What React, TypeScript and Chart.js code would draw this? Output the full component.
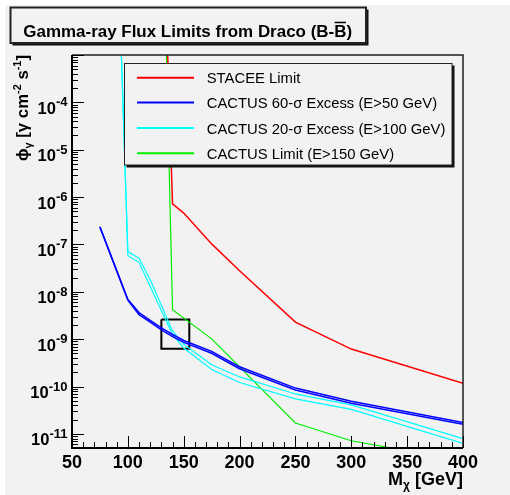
import React, { useEffect, useRef } from "react";
import { Chart, registerables } from "chart.js";

Chart.register(...registerables);

// ---- data (mass in GeV, flux in gamma cm^-2 s^-1) ----
const massRed = [135, 140, 150, 175, 200, 250, 300, 400];
const fluxRed = [2.9e-3, 7.2e-7, 4.6e-7, 1.03e-7, 2.8e-8, 2.3e-9, 6.2e-10, 1.17e-10];

const massBlue = [75, 100, 110, 120, 130, 140, 150, 175, 200, 250, 300, 400];
const fluxBlueA = [2.38e-7, 6.9e-9, 3.65e-9, 2.5e-9, 1.74e-9, 1.26e-9, 9.4e-10, 5.55e-10, 2.62e-10, 9.3e-11, 4.9e-11, 1.75e-11];
const fluxBlueB = [2.32e-7, 6.7e-9, 3.3e-9, 2.3e-9, 1.58e-9, 1.14e-9, 8.6e-10, 5.05e-10, 2.38e-10, 8.5e-11, 4.45e-11, 1.6e-11];

const massCyan = [94, 100, 110, 120, 140, 150, 175, 200, 250, 300, 400];
const fluxCyanA = [1.4e-3, 7.1e-8, 5.1e-8, 1.8e-8, 1.5e-9, 7.8e-10, 2.9e-10, 1.6e-10, 7.0e-11, 4.1e-11, 8.0e-12];
const fluxCyanB = [1.4e-3, 5.8e-8, 4.2e-8, 1.3e-8, 1.25e-9, 6.5e-10, 2.3e-10, 1.22e-10, 5.5e-11, 3.3e-11, 6.3e-12];

const massGreen = [134, 140, 175, 250, 300, 400];
const fluxGreen = [3.2e-3, 4.2e-9, 1.02e-9, 1.71e-11, 7.2e-12, 2.7e-12];

// highlighted region (black square)
const boxMass = [130, 155, 155, 130, 130];
const boxFlux = [2.6e-9, 2.6e-9, 6.3e-10, 6.3e-10, 2.6e-9];

const seriesLabels = [
  "STACEE Limit",
  "CACTUS 60-σ Excess (E>50 GeV)",
  "CACTUS 20-σ Excess (E>100 GeV)",
  "CACTUS Limit (E>150 GeV)",
];

const xTickLabels = [50, 100, 150, 200, 250, 300, 350, 400];
const yTickExponents = [-11, -10, -9, -8, -7, -6, -5, -4];

const titleText = "Gamma-ray Flux Limits from Draco (B-B)";
const xTitleMain = "M";
const xTitleSub = "χ";
const xTitleRest = " [GeV]";

const FONT = '"Liberation Sans", Arial, Helvetica, sans-serif';

const pts = (xs: number[], ys: number[]) => xs.map((x, i) => ({ x, y: ys[i] }));

const rootPlugin = {
  id: "rootStyle",
  beforeDraw(chart: any) {
    const ctx = chart.ctx as CanvasRenderingContext2D;
    ctx.save();
    ctx.fillStyle = "#ffffff";
    ctx.fillRect(0, 0, chart.width, chart.height);
    ctx.fillStyle = "#f2f2f2";
    ctx.fillRect(5, 5, chart.width - 5, chart.height - 5);
    ctx.restore();
  },
  afterDatasetsDraw(chart: any) {
    const ctx = chart.ctx as CanvasRenderingContext2D;
    const { left, top, right, bottom } = chart.chartArea;
    const xs = chart.scales.x;
    const ys = chart.scales.y;
    ctx.save();

    // frame
    ctx.strokeStyle = "#222";
    ctx.lineWidth = 1.5;
    ctx.beginPath();
    ctx.moveTo(left, top);
    ctx.lineTo(right, top);
    ctx.lineTo(right, bottom);
    ctx.stroke();
    ctx.strokeStyle = "#000";
    ctx.lineWidth = 2;
    ctx.beginPath();
    ctx.moveTo(left, top);
    ctx.lineTo(left, bottom);
    ctx.lineTo(right, bottom);
    ctx.stroke();

    // y ticks (inward)
    ctx.lineWidth = 1;
    ctx.strokeStyle = "#000";
    ctx.beginPath();
    for (let e = -13; e <= -2; e++) {
      for (let m = 1; m <= 9; m++) {
        const v = m * Math.pow(10, e);
        if (v < ys.min * 0.999 || v > ys.max * 1.001) continue;
        const py = Math.round(ys.getPixelForValue(v)) + 0.5;
        const len = m === 1 ? 12 : 6;
        ctx.moveTo(left, py);
        ctx.lineTo(left + len, py);
      }
    }
    // x ticks (inward)
    for (let v = xs.min; v <= xs.max + 0.001; v += 10) {
      const px = Math.round(xs.getPixelForValue(v)) + 0.5;
      const major = xTickLabels.includes(Math.round(v));
      const len = major ? 12 : 6;
      ctx.moveTo(px, bottom);
      ctx.lineTo(px, bottom - len);
    }
    ctx.stroke();

    // x tick labels
    ctx.fillStyle = "#000";
    ctx.font = `bold 18px ${FONT}`;
    ctx.textAlign = "center";
    ctx.textBaseline = "alphabetic";
    for (const v of xTickLabels) {
      ctx.fillText(String(v), xs.getPixelForValue(v), 468);
    }

    // y tick labels 10^n
    ctx.textAlign = "left";
    for (const e of yTickExponents) {
      const py = ys.getPixelForValue(Math.pow(10, e));
      ctx.font = `bold 16.5px ${FONT}`;
      const w10 = ctx.measureText("10").width;
      ctx.font = `bold 13px ${FONT}`;
      const expStr = String(e);
      const we = ctx.measureText(expStr).width;
      const x0 = 67.5 - w10 - we;
      ctx.font = `bold 16.5px ${FONT}`;
      ctx.fillText("10", x0, py + 11.5);
      ctx.font = `bold 13px ${FONT}`;
      ctx.fillText(expStr, x0 + w10, py + 4);
    }

    // x axis title
    ctx.font = `bold 18px ${FONT}`;
    const wM = ctx.measureText(xTitleMain).width;
    const wRest = ctx.measureText(xTitleRest).width;
    ctx.font = `bold 12px ${FONT}`;
    const wSub = ctx.measureText(xTitleSub).width;
    let xx = 463 - (wM + wSub + wRest);
    const xb = 485;
    ctx.font = `bold 18px ${FONT}`;
    ctx.fillText(xTitleMain, xx, xb);
    xx += wM;
    ctx.font = `bold 12px ${FONT}`;
    ctx.fillText(xTitleSub, xx, xb + 4);
    xx += wSub;
    ctx.font = `bold 18px ${FONT}`;
    ctx.fillText(xTitleRest, xx, xb);

    // y axis title (rotated)
    const parts: [string, number, number][] = [
      ["ϕ", 17, 0],
      ["γ", 11, 4],
      [" [γ cm", 17, 0],
      ["-2", 11, -7],
      [" s", 17, 0],
      ["-1", 11, -7],
      ["]", 17, 0],
    ];
    let total = 0;
    const widths: number[] = [];
    for (const [t, s] of parts) {
      ctx.font = `bold ${s}px ${FONT}`;
      const w = ctx.measureText(t).width;
      widths.push(w);
      total += w;
    }
    const yStart = 161;
    const yEnd = 55;
    const k = (yStart - yEnd) / total;
    ctx.save();
    ctx.translate(28, yStart);
    ctx.rotate(-Math.PI / 2);
    ctx.scale(k, k);
    let lx = 0;
    parts.forEach(([t, s, off], i) => {
      ctx.font = `bold ${s}px ${FONT}`;
      ctx.fillText(t, lx, off);
      lx += widths[i];
    });
    ctx.restore();

    // legend
    const lgL = 124.5, lgT = 63.5, lgR = 452, lgB = 165;
    ctx.fillStyle = "#111";
    ctx.fillRect(lgL + 2, lgT + 2, lgR - lgL + 0.5, lgB - lgT + 0.5);
    ctx.fillStyle = "#f2f2f2";
    ctx.fillRect(lgL, lgT, lgR - lgL, lgB - lgT);
    ctx.strokeStyle = "#222";
    ctx.lineWidth = 1;
    ctx.strokeRect(lgL, lgT, lgR - lgL, lgB - lgT);

    ctx.font = `15px ${FONT}`;
    const wRef = ctx.measureText(seriesLabels[2]).width;
    const lfs = (15 * 239) / wRef;
    const entries = chart.data.datasets.filter((d: any) => d.legendEntry !== false);
    const rows = [77.7, 102.5, 128, 153.3];
    entries.forEach((d: any, i: number) => {
      const ry = rows[i];
      ctx.strokeStyle = d.borderColor;
      ctx.lineWidth = 2;
      ctx.beginPath();
      ctx.moveTo(137, ry);
      ctx.lineTo(194, ry);
      ctx.stroke();
      ctx.fillStyle = "#000";
      ctx.font = `${lfs}px ${FONT}`;
      ctx.textAlign = "left";
      ctx.fillText(d.label, 206.7, ry + 5.5);
    });

    // title box
    const tL = 10.5, tT = 7.5, tR = 366, tB = 43;
    ctx.fillStyle = "#111";
    ctx.fillRect(tL + 2, tT + 2, tR - tL + 0.5, tB - tT + 0.5);
    ctx.fillStyle = "#f2f2f2";
    ctx.fillRect(tL, tT, tR - tL, tB - tT);
    ctx.strokeStyle = "#222";
    ctx.strokeRect(tL, tT, tR - tL, tB - tT);

    ctx.font = `bold 16px ${FONT}`;
    const tw = ctx.measureText(titleText).width;
    const tfs = (16 * 329) / tw;
    ctx.font = `bold ${tfs}px ${FONT}`;
    ctx.fillStyle = "#000";
    const tx = 23.3, tb = 36.7;
    ctx.fillText(titleText, tx, tb);
    const pre = titleText.slice(0, titleText.lastIndexOf("B"));
    const wPre = ctx.measureText(pre).width;
    const wB = ctx.measureText("B").width;
    ctx.strokeStyle = "#000";
    ctx.lineWidth = 1.5;
    ctx.beginPath();
    ctx.moveTo(tx + wPre + 0.5, tb - tfs * 0.72 - 2);
    ctx.lineTo(tx + wPre + wB - 0.5, tb - tfs * 0.72 - 2);
    ctx.stroke();

    ctx.restore();
  },
};

export default function App() {
  const ref = useRef<HTMLCanvasElement | null>(null);

  useEffect(() => {
    if (!ref.current) return;
    const chart = new Chart(ref.current, {
      type: "line",
      data: {
        datasets: [
          { label: seriesLabels[0], data: pts(massRed, fluxRed), borderColor: "#ff0000", borderWidth: 1.5 },
          { label: seriesLabels[1], data: pts(massBlue, fluxBlueA), borderColor: "#0000ff", borderWidth: 1.5 },
          { label: seriesLabels[1], data: pts(massBlue, fluxBlueB), borderColor: "#0000ff", borderWidth: 1.5, legendEntry: false },
          { label: seriesLabels[2], data: pts(massCyan, fluxCyanA), borderColor: "#00ffff", borderWidth: 1.2 },
          { label: seriesLabels[2], data: pts(massCyan, fluxCyanB), borderColor: "#00ffff", borderWidth: 1.2, legendEntry: false },
          { label: seriesLabels[3], data: pts(massGreen, fluxGreen), borderColor: "#00ee00", borderWidth: 1.2 },
          { label: "box", data: pts(boxMass, boxFlux), borderColor: "#000000", borderWidth: 2, legendEntry: false },
        ] as any,
      },
      options: {
        responsive: false,
        animation: false,
        events: [],
        parsing: false as any,
        layout: { padding: { left: 72, top: 55, right: 47, bottom: 47 } },
        elements: { point: { radius: 0 }, line: { tension: 0, fill: false } },
        scales: {
          x: { type: "linear", min: 50, max: 400, display: false },
          y: { type: "logarithmic", min: 5.06e-12, max: 1e-3, display: false },
        },
        plugins: {
          legend: { display: false },
          title: { display: false },
          tooltip: { enabled: false },
        },
      },
      plugins: [rootPlugin],
    });
    return () => chart.destroy();
  }, []);

  return (
    <div style={{ position: "absolute", left: 0, top: 0, width: 510, height: 495 }}>
      <canvas ref={ref} width={510} height={495} style={{ display: "block", width: 510, height: 495 }} />
    </div>
  );
}
